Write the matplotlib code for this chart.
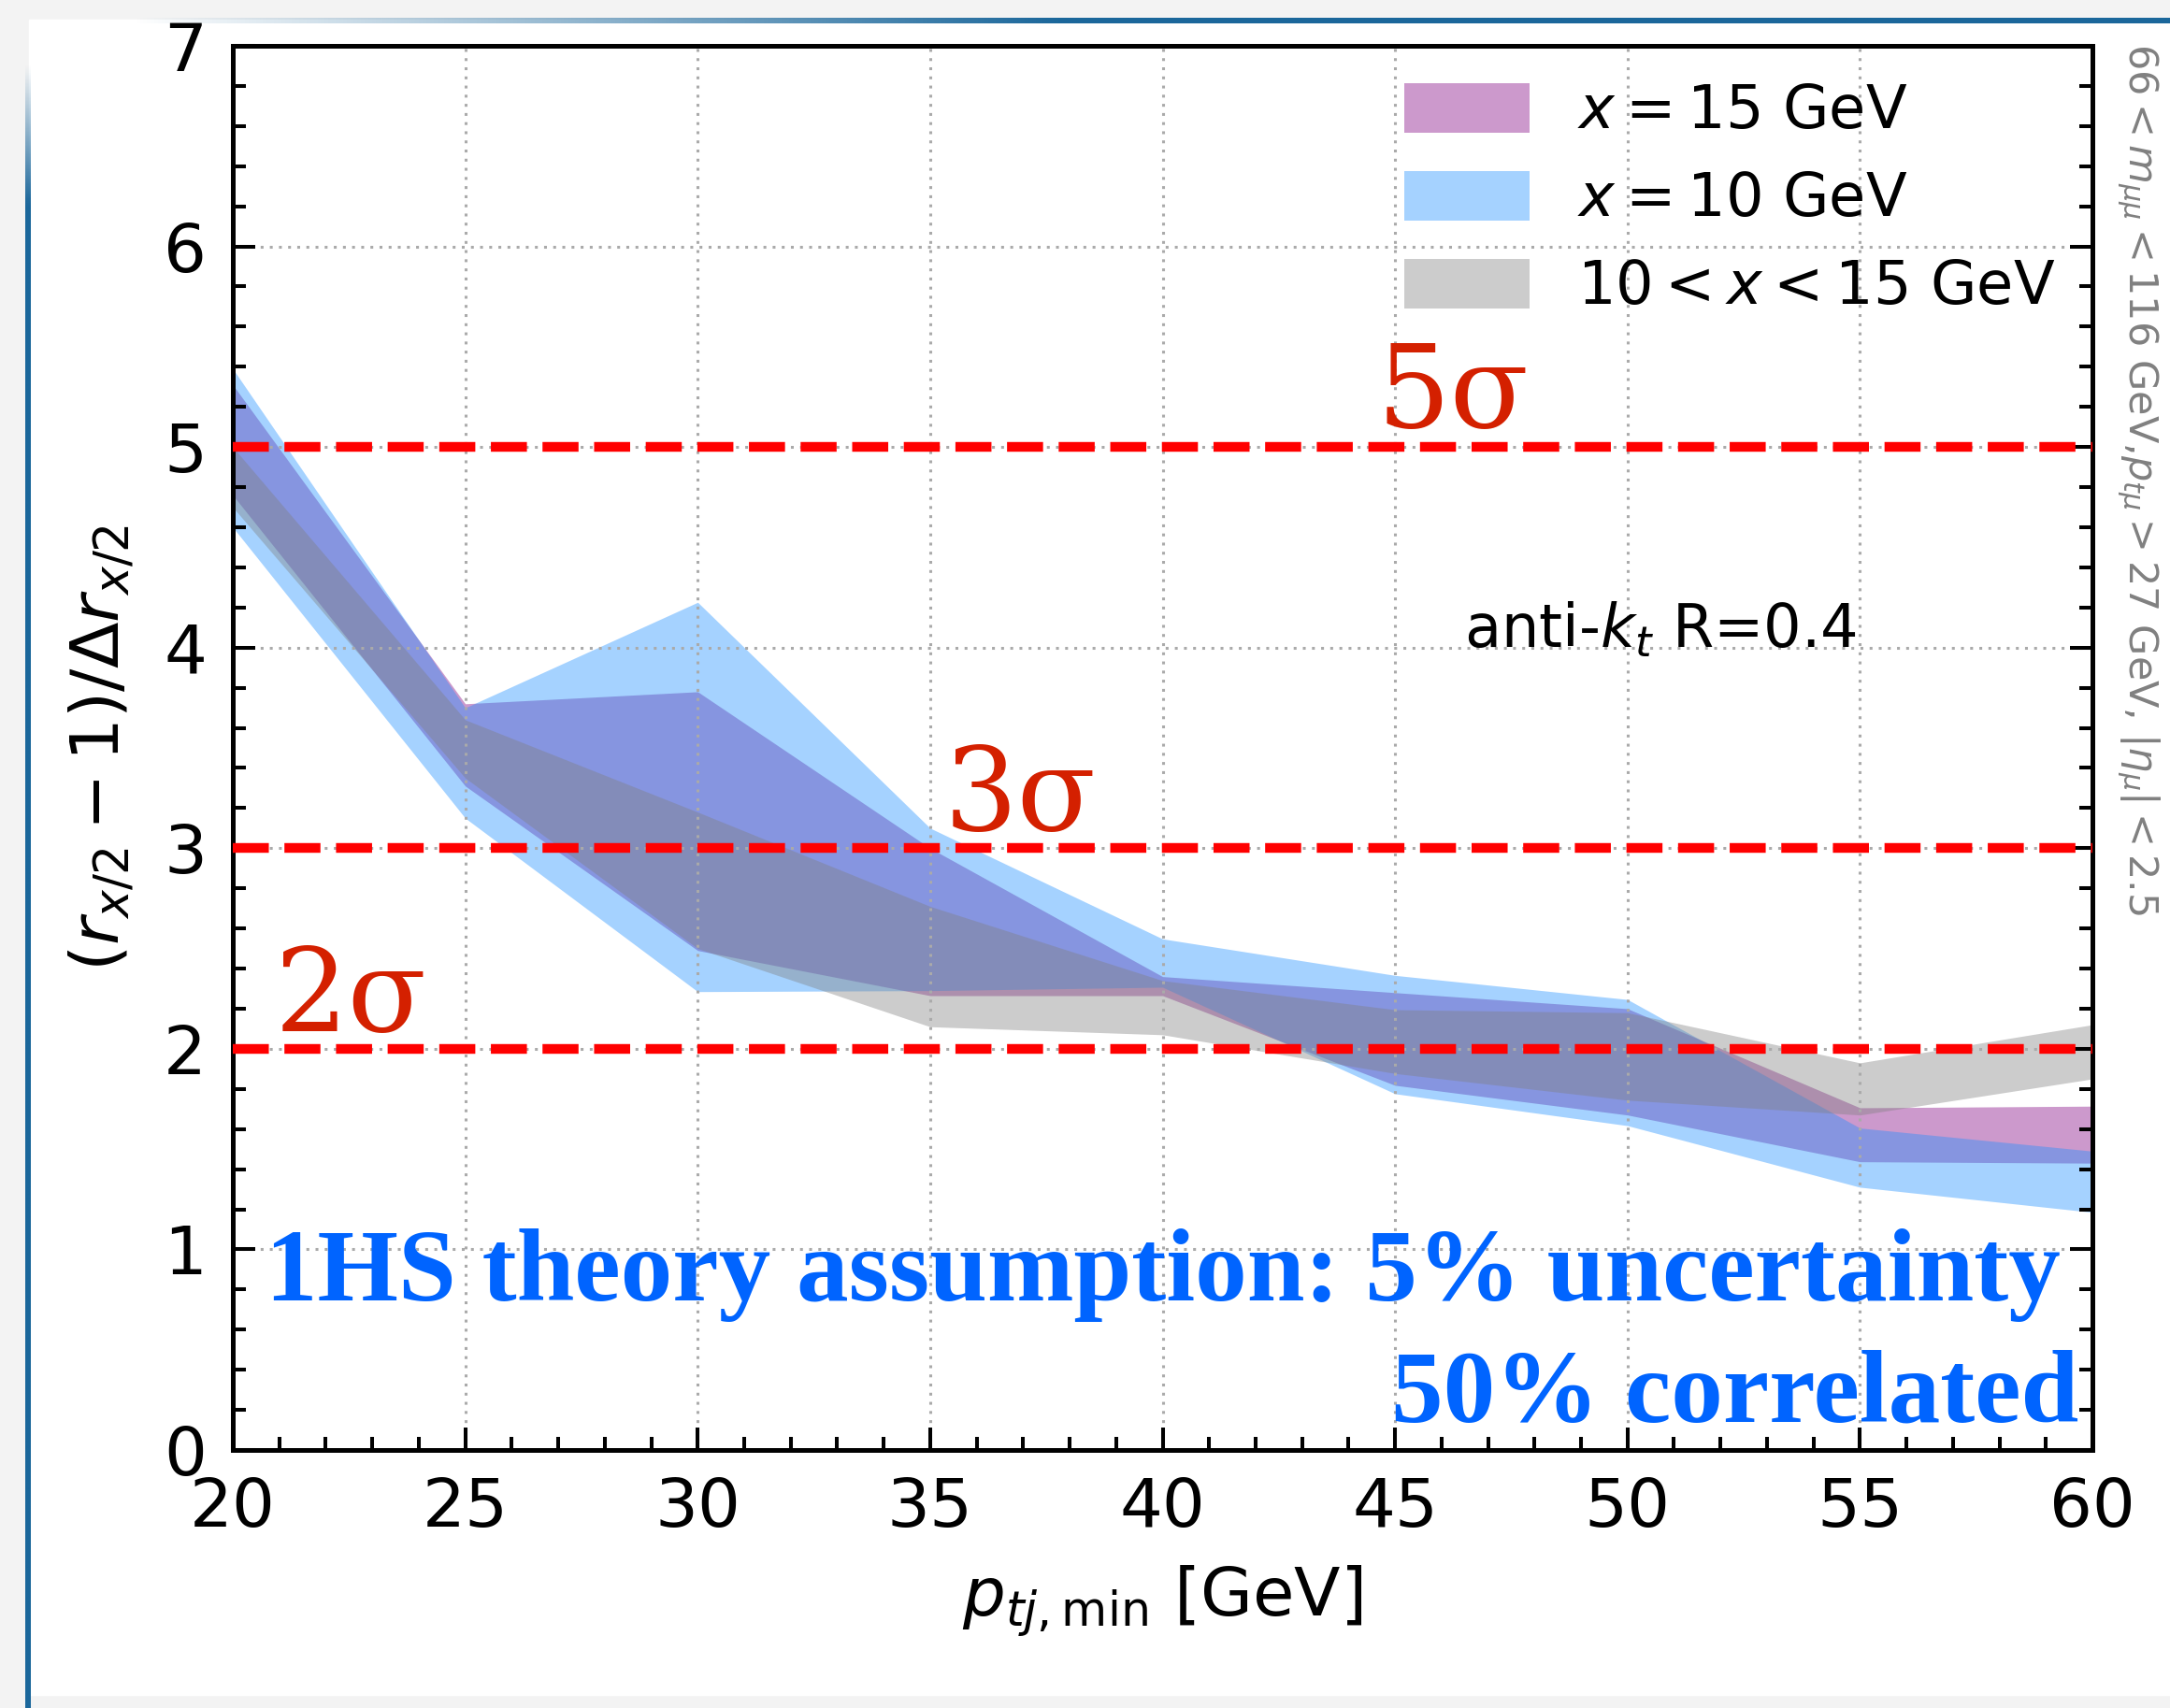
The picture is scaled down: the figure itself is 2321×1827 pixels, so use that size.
import numpy as np
import matplotlib
matplotlib.use("Agg")
import matplotlib.pyplot as plt
from matplotlib.patches import Rectangle
from matplotlib.ticker import MultipleLocator

# minimum jet transverse momentum [GeV]
pt_min = [20, 25, 30, 35, 40, 45, 50, 55, 60]

# significance bands, lower / upper edge
x15_lo = [4.76, 3.31, 2.49, 2.265, 2.265, 1.818, 1.67, 1.437, 1.43]
x15_hi = [5.31, 3.72, 3.78, 3.00, 2.36, 2.28, 2.20, 1.706, 1.714]
x10_lo = [4.60, 3.15, 2.285, 2.29, 2.307, 1.776, 1.617, 1.31, 1.185]
x10_hi = [5.39, 3.70, 4.226, 3.10, 2.548, 2.366, 2.246, 1.605, 1.49]
xmid_lo = [4.70, 3.35, 2.50, 2.11, 2.07, 1.877, 1.744, 1.67, 1.85]
xmid_hi = [5.00, 3.64, 3.18, 2.71, 2.34, 2.195, 2.18, 1.93, 2.12]

band_labels = [r"$x = 15$ GeV", r"$x = 10$ GeV", r"$10 < x < 15$ GeV"]
sigma_levels = [2, 3, 5]
sigma_text = ["2σ", "3σ", "5σ"]

W, H = 2321, 1827
BLUE = "#1b679b"

fig = plt.figure(figsize=(W / 100, H / 100), dpi=100)

# slide frame behind the plot
bg = fig.add_axes([0, 0, 1, 1], zorder=-10)
bg.add_patch(Rectangle((0, 0), W, H, color="#f3f3f3", zorder=0))
bg.add_patch(Rectangle((31, 21), W - 31, 1813 - 21, color="white", zorder=1))
rgb = matplotlib.colors.to_rgb(BLUE)
top = np.zeros((1, 400, 4))
top[..., :3] = rgb
top[..., 3] = np.clip(np.linspace(-0.1, 2.2, 400), 0, 1)
bg.imshow(top, extent=(40, W, 25, 19), aspect="auto", interpolation="bilinear", zorder=3)
side = np.zeros((200, 1, 4))
side[..., :3] = rgb
side[..., 3] = np.clip(np.linspace(-0.2, 12, 200), 0, 1)[:, None]
bg.imshow(side, extent=(27, 33, H, 38), aspect="auto", interpolation="bilinear", zorder=3)
bg.set_xlim(0, W)
bg.set_ylim(H, 0)
bg.axis("off")

ax = fig.add_axes([249 / W, 1 - 1551 / H, (2238 - 249) / W, (1551 - 49) / H])

ax.fill_between(pt_min, x15_lo, x15_hi, color="purple", alpha=0.4, lw=0, label=band_labels[0])
ax.fill_between(pt_min, x10_lo, x10_hi, color="dodgerblue", alpha=0.4, lw=0, label=band_labels[1])
ax.fill_between(pt_min, xmid_lo, xmid_hi, color="gray", alpha=0.4, lw=0, label=band_labels[2])

for lvl in sigma_levels:
    ax.axhline(lvl, color="red", ls="--", lw=7.5, zorder=3)

sig_font = dict(family="DejaVu Serif", fontsize=89, color="#d42000")
ax.text(20.9, 2.09, sigma_text[0], va="baseline", **sig_font)
ax.text(35.3, 3.09, sigma_text[1], va="baseline", **sig_font)
ax.text(44.6, 5.10, sigma_text[2], va="baseline", **sig_font)

ax.text(50.7, 4.0, r"anti-$k_t$ R=0.4", fontsize=46, ha="center", va="baseline")

note_font = dict(family="Liberation Serif", fontweight="bold", fontsize=80,
                 color="#0064ff", ha="right", va="baseline")
ax.text(59.31, 0.745, "1HS theory assumption: 5% uncertainty", **note_font)
ax.text(59.7, 0.144, "50% correlated", **note_font)

ax.set_xlim(20, 60)
ax.set_ylim(0, 7)
ax.xaxis.set_major_locator(MultipleLocator(5))
ax.xaxis.set_minor_locator(MultipleLocator(1))
ax.yaxis.set_major_locator(MultipleLocator(1))
ax.yaxis.set_minor_locator(MultipleLocator(0.2))
ax.tick_params(which="both", direction="in", top=False, right=True,
               labelsize=52, width=2.9, pad=20)
ax.tick_params(which="major", length=17)
ax.tick_params(which="minor", length=10)
for sp in ax.spines.values():
    sp.set_linewidth(3.6)
ax.grid(True, which="major", color="#aaaaaa", ls=(0, (1, 2.2)), lw=2.2)

ax.set_xlabel(r"$p_{tj,\mathrm{min}}$ [GeV]", fontsize=52, labelpad=18)
ax.set_ylabel(r"$(r_{x/2}-1)/\Delta r_{x/2}$", fontsize=52, labelpad=22)

ax.legend(loc="upper right", bbox_to_anchor=(1.009, 1.012), frameon=False,
          fontsize=46, handleheight=0.9, handlelength=2.1)

fig.text(2287 / W, 1 - 46 / H,
         r"$66 < m_{\mu\mu} < 116$ GeV,$p_{t\mu} > 27$ GeV, $|\eta_\mu| < 2.5$",
         rotation=270, ha="center", va="top", fontsize=31, color="gray")

fig.savefig("out.png", dpi=100)
